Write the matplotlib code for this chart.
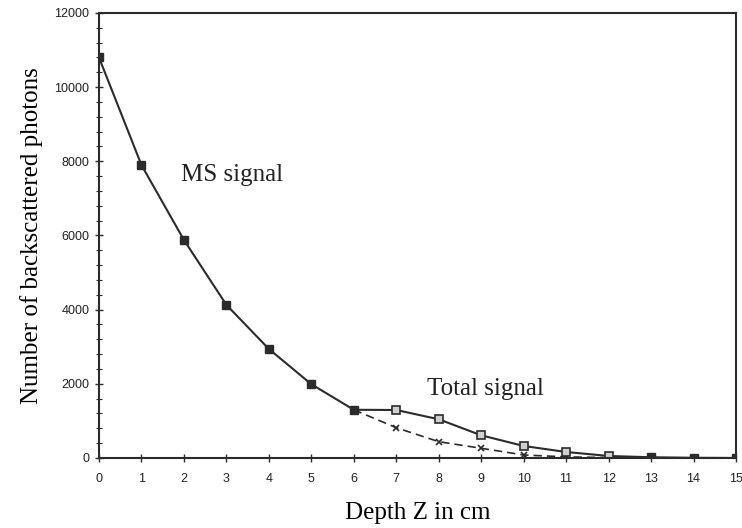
import matplotlib
matplotlib.use("Agg")
import matplotlib.pyplot as plt
from matplotlib.ticker import MultipleLocator

# MS signal (solid, filled squares) for depths 0-6
ms_depth = [0, 1, 2, 3, 4, 5, 6]
ms_values = [10800, 7900, 5880, 4130, 2940, 1990, 1300]

# MS signal tail (dashed, x markers)
ms_tail_depth = [6, 7, 8, 9, 10, 11, 12]
ms_tail_values = [1300, 817, 440, 262, 81, 30, 10]

# Total signal (solid, open squares)
tot_depth = [6, 7, 8, 9, 10, 11, 12, 13, 14, 15]
tot_values = [1300, 1294, 1044, 612, 324, 162, 54, 20, 5, 0]

# Filled squares at the tail (signals coincide)
end_depth = [13, 14, 15]
end_values = [20, 5, 0]

x_ticks = list(range(0, 16))
y_ticks = [0, 2000, 4000, 6000, 8000, 10000, 12000]

fig = plt.figure(figsize=(7.42, 5.28), dpi=100)
ax = fig.add_axes([0.1334, 0.1326, 0.8585, 0.8428])
col = "#2b2b2b"

ax.plot(ms_tail_depth, ms_tail_values, color=col, lw=1.2, ls=(0, (5, 3)),
        marker="x", markevery=[1, 2, 3, 4, 5], ms=5, mew=1.2)
ax.plot(tot_depth, tot_values, color=col, lw=1.5, marker="s", ms=6,
        mfc="#d0d0d0", mec=col, mew=1.2, markevery=[1, 2, 3, 4, 5, 6])
ax.plot(ms_depth, ms_values, color=col, lw=1.5, marker="s", ms=6, mfc=col, mec=col)
ax.plot(end_depth, end_values, color=col, lw=0, marker="s", ms=6, mfc=col, mec=col)

ax.set_xlim(0, 15)
ax.set_ylim(0, 12000)
ax.set_xticks(x_ticks)
ax.set_yticks(y_ticks)
ax.yaxis.set_minor_locator(MultipleLocator(400))
ax.tick_params(axis="both", which="major", direction="inout", length=6, width=1, colors=col,
               labelsize=9, labelcolor="#222222")
ax.tick_params(axis="y", which="minor", direction="inout", length=4, width=0.8, colors=col)
ax.tick_params(axis="x", which="major", pad=8)
ax.tick_params(axis="y", which="major", pad=4)
for lab in ax.get_xticklabels() + ax.get_yticklabels():
    lab.set_fontfamily("Liberation Sans")
for s in ax.spines.values():
    s.set_color(col)
    s.set_linewidth(1.5)

ax.set_xlabel("Depth Z in cm", fontfamily="Liberation Serif", fontsize=18, labelpad=12)
ax.set_ylabel("Number of backscattered photons", fontfamily="Liberation Serif", fontsize=18, labelpad=8)

ax.text(1.92, 7630, "MS signal", fontfamily="Liberation Serif", fontsize=18, va="center", ha="left", color="#222222")
ax.text(7.72, 1860, "Total signal", fontfamily="Liberation Serif", fontsize=18, va="center", ha="left", color="#222222")

fig.savefig("out.png", dpi=100)
